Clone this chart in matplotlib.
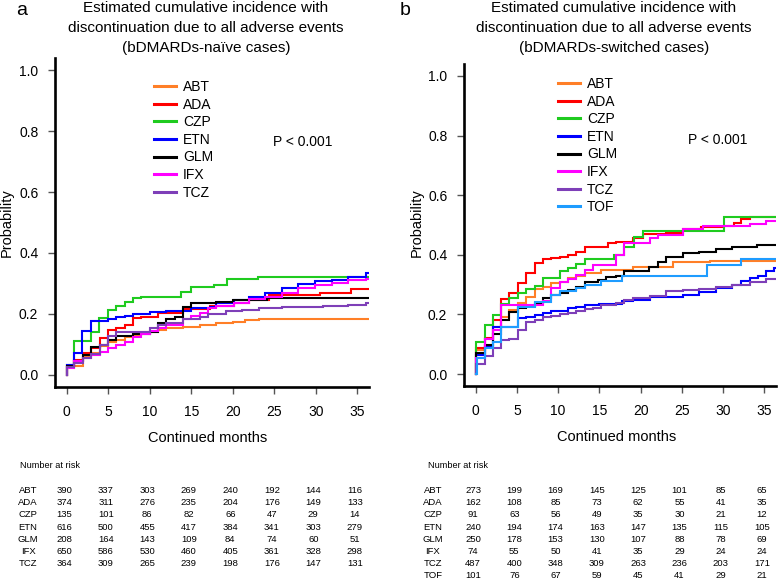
import matplotlib
matplotlib.use('Agg')
import matplotlib.pyplot as plt
import matplotlib.transforms as mtransforms
from matplotlib.lines import Line2D

plt.rcParams['font.family'] = ['Liberation Sans', 'DejaVu Sans']

# ---------------- data ----------------
drugs_a = ['ABT', 'ADA', 'CZP', 'ETN', 'GLM', 'IFX', 'TCZ']
drugs_b = ['ABT', 'ADA', 'CZP', 'ETN', 'GLM', 'IFX', 'TCZ', 'TOF']

colors = {'ABT': '#FF7F27', 'ADA': '#FF0000', 'CZP': '#1FCB1F', 'ETN': '#0000FF',
          'GLM': '#000000', 'IFX': '#FF00FF', 'TCZ': '#7E3FB8', 'TOF': '#1E9CFF'}

# panel a (bDMARDs-naive): step times (months) and cumulative incidence
abt_a_t = [0, 0.1, 2.0, 2.9, 4.0, 5.0, 6.0, 7.0, 8.0, 9.0, 10.0, 11.0, 12.0, 14.0, 16.0, 18.0, 20.0, 21.5, 23.2, 36.5]
abt_a_y = [0, 0.03, 0.06, 0.073, 0.093, 0.109, 0.115, 0.124, 0.131, 0.139, 0.142, 0.148, 0.153, 0.158, 0.164, 0.169, 0.174, 0.179, 0.184, 0.184]
ada_a_t = [0, 0.1, 0.9, 2.0, 2.9, 4.0, 5.0, 6.0, 7.0, 8.0, 9.0, 11.0, 14.0, 17.3, 20.1, 22.0, 24.4, 30.5, 34.2, 36.5]
ada_a_y = [0, 0.027, 0.049, 0.073, 0.087, 0.12, 0.148, 0.153, 0.164, 0.186, 0.191, 0.202, 0.215, 0.226, 0.235, 0.246, 0.262, 0.27, 0.283, 0.283]
czp_a_t = [0, 0.1, 0.9, 2.9, 3.9, 5.0, 6.0, 7.0, 8.0, 9.0, 13.8, 15.0, 17.8, 19.3, 23.0, 36.5]
czp_a_y = [0, 0.033, 0.111, 0.142, 0.187, 0.214, 0.225, 0.24, 0.251, 0.257, 0.271, 0.288, 0.295, 0.314, 0.322, 0.322]
etn_a_t = [0, 0.1, 0.9, 1.8, 2.9, 5.0, 6.0, 7.0, 8.0, 10.0, 12.0, 15.0, 17.3, 18.0, 20.1, 21.9, 23.9, 25.9, 27.9, 29.9, 31.9, 33.9, 36.0, 36.5]
etn_a_y = [0, 0.033, 0.073, 0.145, 0.177, 0.183, 0.189, 0.193, 0.199, 0.205, 0.211, 0.218, 0.224, 0.236, 0.246, 0.257, 0.27, 0.284, 0.298, 0.308, 0.311, 0.32, 0.335, 0.335]
glm_a_t = [0, 0.1, 0.9, 2.0, 2.9, 4.0, 5.0, 6.0, 8.0, 10.0, 11.0, 12.0, 13.0, 14.0, 15.0, 18.0, 20.0, 24.1, 36.5]
glm_a_y = [0, 0.03, 0.044, 0.066, 0.091, 0.098, 0.115, 0.126, 0.134, 0.142, 0.17, 0.183, 0.19, 0.221, 0.235, 0.24, 0.246, 0.253, 0.253]
ifx_a_t = [0, 0.1, 0.9, 2.0, 2.9, 4.0, 5.0, 6.0, 7.0, 8.0, 9.0, 10.0, 11.0, 12.0, 14.0, 15.0, 16.0, 17.0, 18.0, 20.1, 22.0, 23.9, 25.9, 27.9, 29.9, 31.9, 33.9, 36.0, 36.5]
ifx_a_y = [0, 0.022, 0.044, 0.055, 0.066, 0.076, 0.087, 0.098, 0.109, 0.124, 0.134, 0.145, 0.153, 0.164, 0.183, 0.192, 0.202, 0.219, 0.226, 0.237, 0.248, 0.257, 0.27, 0.284, 0.295, 0.303, 0.311, 0.315, 0.315]
tcz_a_t = [0, 0.1, 0.9, 2.0, 2.9, 4.0, 5.0, 6.0, 8.0, 10.0, 11.0, 12.0, 14.0, 16.0, 17.0, 19.2, 21.1, 23.2, 25.9, 30.9, 33.9, 36.0, 36.5]
tcz_a_y = [0, 0.025, 0.038, 0.055, 0.069, 0.098, 0.126, 0.139, 0.142, 0.153, 0.164, 0.17, 0.183, 0.191, 0.2, 0.208, 0.213, 0.219, 0.224, 0.226, 0.23, 0.235, 0.235]

# panel b (bDMARDs-switched)
abt_b_t = [0, 0.1, 1.1, 2.1, 3.1, 4.1, 5.1, 6.1, 7.2, 8.2, 9.2, 10.2, 11.2, 12.2, 13.2, 15.2, 19.1, 23.9, 28.4, 36.6]
abt_b_y = [0, 0.08, 0.116, 0.157, 0.19, 0.215, 0.237, 0.26, 0.284, 0.293, 0.304, 0.31, 0.321, 0.329, 0.338, 0.349, 0.36, 0.377, 0.38, 0.38]
ada_b_t = [0, 0.1, 1.1, 2.1, 3.1, 4.1, 5.1, 6.1, 7.2, 8.2, 9.2, 10.2, 11.2, 12.2, 13.2, 16.0, 17.0, 19.1, 20.3, 23.1, 25.1, 27.3, 30.1, 31.3, 32.2, 33.2, 36.6]
ada_b_y = [0, 0.087, 0.12, 0.18, 0.251, 0.273, 0.306, 0.338, 0.374, 0.385, 0.388, 0.394, 0.399, 0.41, 0.427, 0.438, 0.444, 0.458, 0.469, 0.474, 0.485, 0.494, 0.497, 0.508, 0.519, 0.528, 0.528]
czp_b_t = [0, 0.1, 1.1, 2.1, 3.1, 4.1, 5.1, 6.1, 7.2, 8.2, 10.2, 11.2, 12.2, 13.2, 16.8, 18.0, 19.2, 20.3, 30.1, 36.6]
czp_b_y = [0, 0.108, 0.164, 0.198, 0.235, 0.255, 0.272, 0.285, 0.295, 0.322, 0.345, 0.355, 0.37, 0.385, 0.4, 0.427, 0.459, 0.481, 0.528, 0.528]
etn_b_t = [0, 0.1, 1.1, 2.1, 5.1, 6.1, 7.2, 8.2, 9.2, 11.2, 12.2, 13.2, 15.0, 17.8, 19.1, 21.1, 23.1, 25.1, 27.1, 29.1, 31.1, 32.2, 33.2, 34.2, 35.2, 36.2, 36.6]
etn_b_y = [0, 0.065, 0.09, 0.157, 0.187, 0.192, 0.198, 0.206, 0.212, 0.22, 0.226, 0.231, 0.236, 0.245, 0.25, 0.257, 0.26, 0.265, 0.275, 0.288, 0.3, 0.312, 0.321, 0.33, 0.345, 0.355, 0.355]
glm_b_t = [0, 0.1, 1.1, 2.1, 3.1, 4.1, 5.1, 6.1, 7.2, 8.2, 9.2, 10.2, 11.2, 12.2, 13.2, 14.8, 15.8, 17.0, 18.0, 21.0, 22.1, 23.1, 25.1, 27.1, 29.1, 31.1, 34.1, 36.6]
glm_b_y = [0, 0.07, 0.097, 0.136, 0.181, 0.209, 0.22, 0.228, 0.237, 0.254, 0.265, 0.273, 0.282, 0.293, 0.31, 0.317, 0.324, 0.33, 0.345, 0.36, 0.376, 0.394, 0.405, 0.41, 0.418, 0.425, 0.432, 0.432]
ifx_b_t = [0, 0.1, 1.1, 2.1, 3.1, 8.2, 9.2, 10.2, 11.2, 12.2, 13.2, 14.2, 17.0, 18.0, 21.1, 22.1, 25.1, 27.5, 33.2, 35.2, 36.6]
ifx_b_y = [0, 0.053, 0.116, 0.148, 0.232, 0.245, 0.288, 0.31, 0.318, 0.333, 0.349, 0.366, 0.40, 0.44, 0.456, 0.467, 0.485, 0.497, 0.503, 0.515, 0.515]
tcz_b_t = [0, 0.1, 1.1, 2.1, 3.1, 4.1, 5.1, 6.1, 7.2, 8.2, 9.2, 10.2, 11.2, 12.2, 13.2, 14.2, 15.2, 17.0, 18.0, 19.1, 21.1, 23.1, 25.1, 27.1, 29.1, 31.1, 33.2, 35.2, 36.6]
tcz_b_y = [0, 0.034, 0.062, 0.086, 0.113, 0.119, 0.149, 0.175, 0.182, 0.19, 0.195, 0.2, 0.206, 0.212, 0.217, 0.223, 0.23, 0.24, 0.248, 0.256, 0.262, 0.278, 0.281, 0.285, 0.292, 0.3, 0.31, 0.32, 0.32]
tof_b_t = [0, 0.15, 1.1, 2.1, 3.1, 5.1, 7.2, 9.2, 10.2, 12.2, 13.2, 15.2, 17.8, 28.1, 32.2, 36.6]
tof_b_y = [0, 0.053, 0.086, 0.108, 0.159, 0.225, 0.243, 0.265, 0.28, 0.288, 0.299, 0.313, 0.329, 0.366, 0.385, 0.385]

curves_a = {'ABT': (abt_a_t, abt_a_y), 'ADA': (ada_a_t, ada_a_y), 'CZP': (czp_a_t, czp_a_y),
            'ETN': (etn_a_t, etn_a_y), 'GLM': (glm_a_t, glm_a_y), 'IFX': (ifx_a_t, ifx_a_y),
            'TCZ': (tcz_a_t, tcz_a_y)}
curves_b = {'ABT': (abt_b_t, abt_b_y), 'ADA': (ada_b_t, ada_b_y), 'CZP': (czp_b_t, czp_b_y),
            'ETN': (etn_b_t, etn_b_y), 'GLM': (glm_b_t, glm_b_y), 'IFX': (ifx_b_t, ifx_b_y),
            'TCZ': (tcz_b_t, tcz_b_y), 'TOF': (tof_b_t, tof_b_y)}

risk_times = [0, 5, 10, 15, 20, 25, 30, 35]
risk_a = {'ABT': [390, 337, 303, 269, 240, 192, 144, 116],
          'ADA': [374, 311, 276, 235, 204, 176, 149, 133],
          'CZP': [135, 101, 86, 82, 66, 47, 29, 14],
          'ETN': [616, 500, 455, 417, 384, 341, 303, 279],
          'GLM': [208, 164, 143, 109, 84, 74, 60, 51],
          'IFX': [650, 586, 530, 460, 405, 361, 328, 298],
          'TCZ': [364, 309, 265, 239, 198, 176, 147, 131]}
risk_b = {'ABT': [273, 199, 169, 145, 125, 101, 85, 65],
          'ADA': [162, 108, 85, 73, 62, 55, 41, 35],
          'CZP': [91, 63, 56, 49, 35, 30, 21, 12],
          'ETN': [240, 194, 174, 163, 147, 135, 115, 105],
          'GLM': [250, 178, 153, 130, 107, 88, 78, 69],
          'IFX': [74, 55, 50, 41, 35, 29, 24, 24],
          'TCZ': [487, 400, 348, 309, 263, 236, 203, 171],
          'TOF': [101, 76, 67, 59, 45, 41, 29, 21]}

x_ticks = [0, 5, 10, 15, 20, 25, 30, 35]
y_ticks = [0.0, 0.2, 0.4, 0.6, 0.8, 1.0]
title_lines_a = ['Estimated cumulative incidence with',
                 'discontinuation due to all adverse events',
                 '(bDMARDs-naïve cases)']
title_lines_b = ['Estimated cumulative incidence with',
                 'discontinuation due to all adverse events',
                 '(bDMARDs-switched cases)']
p_text = 'P < 0.001'

# ---------------- layout ----------------
W, H = 778, 579
fig = plt.figure(figsize=(W / 100, H / 100), dpi=100)


def fx(px):
    return px / W


def fy(py):
    return 1 - py / H


def make_axes(left, right, top, bottom):
    ax = fig.add_axes([fx(left), fy(bottom), (right - left) / W, (bottom - top) / H])
    ax.set_xlim(-1.4, 36.4)
    ax.set_ylim(-0.04, 1.04)
    for s in ['top', 'right']:
        ax.spines[s].set_visible(False)
    for s in ['left', 'bottom']:
        ax.spines[s].set_linewidth(1.9)
        ax.spines[s].set_capstyle('projecting')
    ax.set_xticks(x_ticks)
    ax.set_xticklabels([str(v) for v in x_ticks])
    ax.set_yticks(y_ticks)
    ax.set_yticklabels([f'{v:.1f}' for v in y_ticks])
    ax.tick_params(axis='both', direction='out', length=5, width=1.0, color='#555555',
                   labelsize=10)
    ax.tick_params(axis='x', pad=8)
    ax.tick_params(axis='y', pad=7)
    return ax


ax_a = make_axes(55, 369, 58, 387)
ax_b = make_axes(464, 776, 64, 386)

for ax, curves, drugs in [(ax_a, curves_a, drugs_a), (ax_b, curves_b, drugs_b)]:
    for d in drugs:
        t, y = curves[d]
        ax.step(t, y, where='post', color=colors[d], lw=1.5, solid_joinstyle='miter')

# legends
for ax, drugs, lx, ty in [(ax_a, drugs_a, 154, 80), (ax_b, drugs_b, 558, 77)]:
    handles = [Line2D([], [], color=colors[d], lw=2.2) for d in drugs]
    ax.legend(handles, drugs, loc='upper left', bbox_to_anchor=(fx(lx), fy(ty)),
              bbox_transform=fig.transFigure, frameon=False, fontsize=10,
              handlelength=1.6, handletextpad=0.5, labelspacing=0.26,
              borderpad=0, borderaxespad=0)

# p values
fig.text(fx(273), fy(142), p_text, fontsize=10, va='center', ha='left')
fig.text(fx(688), fy(140), p_text, fontsize=10, va='center', ha='left')

# titles
for cx, lines in [(206, title_lines_a), (614, title_lines_b)]:
    for i, line in enumerate(lines):
        fig.text(fx(cx), fy(8 + 20 * i), line, fontsize=11, ha='center', va='center')
fig.text(fx(16), fy(15), 'a', fontsize=14, ha='left', va='baseline')
fig.text(fx(400), fy(15), 'b', fontsize=14, ha='left', va='baseline')

# axis labels
fig.text(fx(208), fy(438), 'Continued months', fontsize=10.5, ha='center', va='center')
fig.text(fx(617), fy(437), 'Continued months', fontsize=10.5, ha='center', va='center')
fig.text(fx(7), fy(223), 'Probability', fontsize=10.5, ha='center', va='center', rotation=90)
fig.text(fx(417), fy(223), 'Probability', fontsize=10.5, ha='center', va='center', rotation=90)

# risk tables
for ax, risk, drugs, hx, lab_x in [(ax_a, risk_a, drugs_a, 20, 28), (ax_b, risk_b, drugs_b, 428, 433)]:
    fig.text(fx(hx), fy(465), 'Number at risk', fontsize=6.6, ha='left', va='center')
    trans = mtransforms.blended_transform_factory(ax.transData, fig.transFigure)
    for i, d in enumerate(drugs):
        yy = fy(490.5 + 12.2 * i)
        fig.text(fx(lab_x), yy, d, fontsize=6.8, ha='center', va='center')
        for tt, n in zip(risk_times, risk[d]):
            ax.text(tt - 0.3, yy, str(n), transform=trans, fontsize=6.8,
                    ha='center', va='center', clip_on=False)

fig.savefig('out.png', dpi=100)
